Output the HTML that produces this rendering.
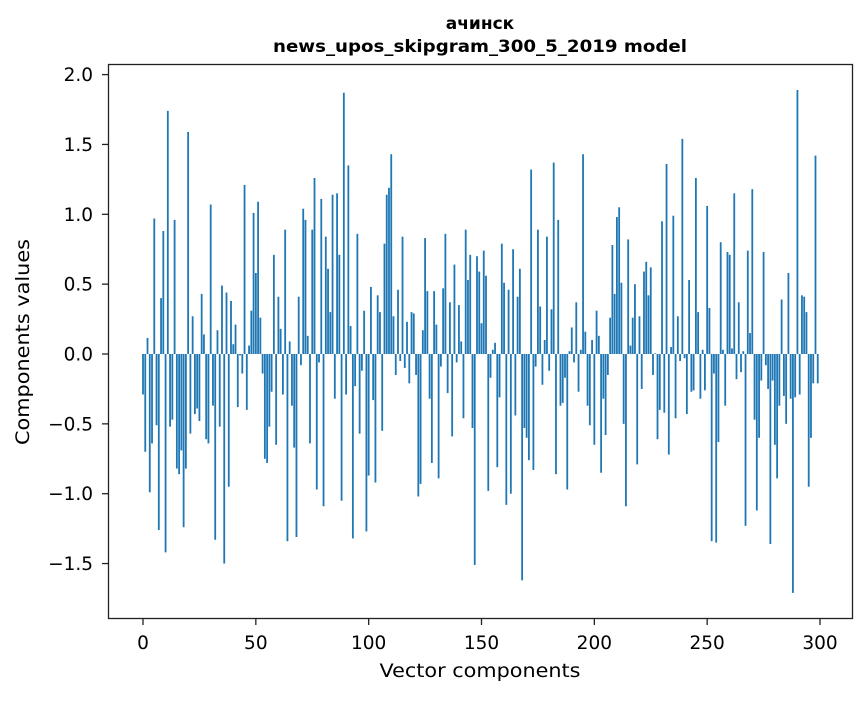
<!DOCTYPE html>
<html><head><meta charset="utf-8"><style>
html,body{margin:0;padding:0;background:#fff;}
svg text{font-family:"DejaVu Sans","Liberation Sans",sans-serif;fill:#000;}
</style></head><body>
<svg id="chart" width="867" height="696" xmlns="http://www.w3.org/2000/svg">
<text x="480" y="29" text-anchor="middle" font-size="17" font-weight="bold">ачинск</text>
<text x="480" y="52" text-anchor="middle" font-size="17" font-weight="bold" textLength="414" lengthAdjust="spacingAndGlyphs">news_upos_skipgram_300_5_2019 model</text>
<g id="bars"></g>
<g id="axes"></g>
<rect x="108.5" y="64.5" width="744" height="554" fill="none" stroke="#222" stroke-width="1.3"/>
<text x="480" y="677" text-anchor="middle" font-size="19" textLength="201" lengthAdjust="spacingAndGlyphs">Vector components</text>
<text x="0" y="0" transform="translate(29,342) rotate(-90)" text-anchor="middle" font-size="19" textLength="206" lengthAdjust="spacingAndGlyphs">Components values</text>
</svg>
<script>
const values = [-0.29,-0.70,0.115,-0.99,-0.64,0.97,-0.51,-1.26,0.40,0.88,
-1.42,1.74,-0.52,-0.47,0.96,-0.82,-0.86,-0.69,-1.24,-0.82,
1.59,-0.57,0.27,-0.43,-0.39,-0.48,0.43,0.14,-0.61,-0.64,
1.07,-0.37,-1.33,0.17,-0.52,0.49,-1.50,0.44,-0.95,0.38,
0.07,0.21,-0.38,-0.01,-0.14,1.21,-0.40,0.06,0.31,1.01,
0.58,1.09,0.26,-0.14,-0.75,-0.78,-0.52,-0.27,0.71,-0.65,
0.41,0.18,-0.29,0.89,-1.34,0.09,-0.37,-0.67,-1.31,0.41,
-0.08,1.04,0.96,0.13,-0.64,0.89,1.26,-0.97,-0.06,1.11,
-1.09,0.84,0.61,0.30,1.14,-0.32,1.15,0.71,-1.05,1.87,
-0.29,1.35,0.20,-1.32,-0.23,0.86,-0.57,-0.12,0.31,-1.27,
-0.87,0.48,-0.33,-0.92,0.42,0.30,-0.55,0.79,1.14,1.19,
1.43,0.27,-0.15,0.46,-0.05,0.84,-0.10,0.23,-0.21,0.30,
0.29,-0.15,-1.02,-0.93,0.17,0.83,0.45,-0.32,-0.78,0.45,
0.21,-0.89,-0.09,0.47,0.86,-0.28,0.37,-0.59,0.64,-0.06,
0.35,0.09,-0.46,0.89,0.53,0.71,-0.53,-1.51,0.70,0.59,
0.22,0.74,0.56,-0.98,-0.17,0.03,0.08,-0.81,-0.31,0.79,
0.51,-1.08,0.46,-1.00,0.75,-0.44,0.41,0.61,-1.62,-0.53,
-0.60,-0.76,1.32,-0.83,-0.09,0.89,0.34,-0.22,0.10,0.84,
-0.12,0.32,1.37,-0.86,0.96,-0.37,-0.35,-0.17,-0.97,0.02,
0.19,-0.06,0.37,-0.27,0.03,1.43,0.16,-0.37,-0.51,0.10,
-0.65,0.31,0.13,-0.85,-0.32,-0.58,-0.15,0.26,0.78,0.43,
0.98,1.05,0.51,-0.50,-1.09,0.82,0.06,0.26,0.50,-0.79,
0.27,-0.25,0.59,0.66,0.42,0.62,-0.15,0.005,-0.61,-0.40,
0.95,-0.42,1.36,-0.72,0.05,0.99,-0.46,0.27,-0.05,1.54,
-0.03,-0.43,0.53,-0.27,-0.26,1.26,0.30,-0.32,0.03,-0.26,
1.06,0.33,-1.34,-0.14,-1.35,-0.63,0.80,0.03,-0.37,0.73,
0.71,0.04,1.15,-0.18,0.37,-0.13,0.02,-1.23,0.74,0.15,
1.18,-0.47,-1.12,-0.60,-0.19,0.73,-0.08,-0.25,-1.36,-0.19,
-0.65,-0.89,-0.37,0.39,-0.30,-0.50,0.58,-0.32,-1.71,-0.31,
1.89,-0.29,0.42,0.41,0.30,-0.95,-0.60,-0.21,1.42,-0.21];
const xTicks = [0,50,100,150,200,250,300];
const yTicks = [-1.5,-1.0,-0.5,0.0,0.5,1.0,1.5,2.0];
const yTickLabels = ["−1.5","−1.0","−0.5","0.0","0.5","1.0","1.5","2.0"];

const NS="http://www.w3.org/2000/svg";
const xs = v => 143 + v*(677/300);
const ys = v => 354 - v*139.7;
const barsG=document.getElementById('bars');
const bw=0.8*677/300;
values.forEach((v,i)=>{
  const r=document.createElementNS(NS,'rect');
  
  
  const y0=ys(0), y1=ys(v);
  r.setAttribute('x',xs(i)-bw/2);
  r.setAttribute('y',Math.min(y0,y1));
  r.setAttribute('width',bw);
  r.setAttribute('height',Math.abs(y1-y0));
  r.setAttribute('fill','#1f77b4');
  barsG.appendChild(r);
});
const axG=document.getElementById('axes');
xTicks.forEach(t=>{
  const l=document.createElementNS(NS,'line');
  
  
  l.setAttribute('x1',xs(t));l.setAttribute('x2',xs(t));
  l.setAttribute('y1',618.5);l.setAttribute('y2',625);
  l.setAttribute('stroke','#222');l.setAttribute('stroke-width','1.3');
  axG.appendChild(l);
  const tx=document.createElementNS(NS,'text');
  
  
  tx.setAttribute('x',xs(t));tx.setAttribute('y',649);
  tx.setAttribute('text-anchor','middle');tx.setAttribute('font-size','18.5');
  tx.textContent=t;
  axG.appendChild(tx);
});
yTicks.forEach((t,i)=>{
  const l=document.createElementNS(NS,'line');
  
  
  l.setAttribute('x1',102);l.setAttribute('x2',108.5);
  l.setAttribute('y1',ys(t));l.setAttribute('y2',ys(t));
  l.setAttribute('stroke','#222');l.setAttribute('stroke-width','1.3');
  axG.appendChild(l);
  const tx=document.createElementNS(NS,'text');
  
  
  tx.setAttribute('x',93);tx.setAttribute('y',ys(t)+6.5);
  tx.setAttribute('text-anchor','end');tx.setAttribute('font-size','18.5');
  tx.textContent=yTickLabels[i];
  axG.appendChild(tx);
});
</script>
</body></html>
